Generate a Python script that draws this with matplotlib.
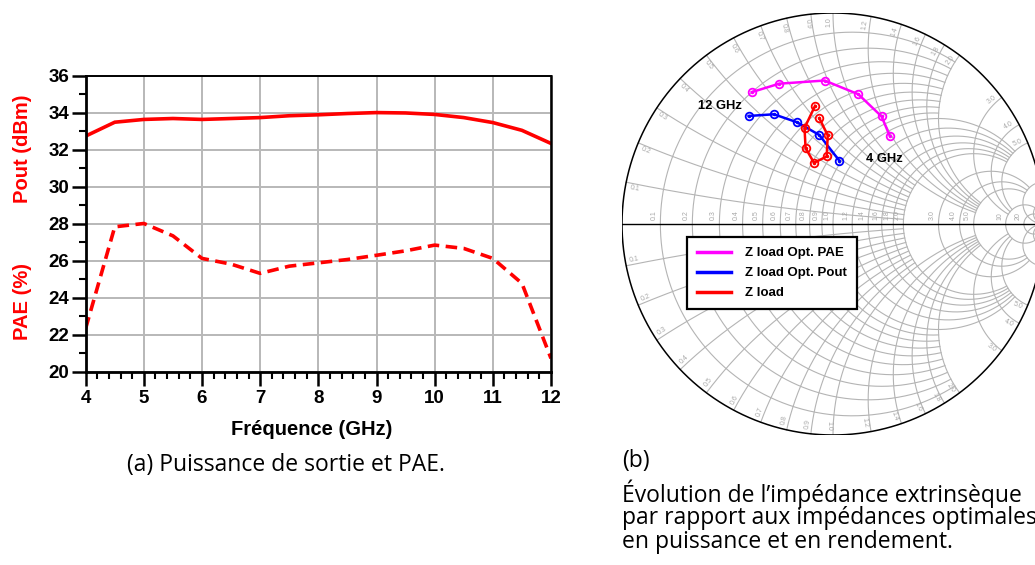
import numpy as np
import matplotlib as mpl
mpl.use('agg')
import matplotlib.pyplot as plt
from matplotlib.lines import Line2D

# (a) output power and PAE versus frequency
freq = [4, 4.5, 5, 5.5, 6, 6.5, 7, 7.5, 8, 8.5, 9, 9.5, 10, 10.5, 11, 11.5, 12]
pout = [32.75, 33.5, 33.65, 33.7, 33.65, 33.7, 33.75, 33.85, 33.9, 33.97,
        34.02, 34.0, 33.92, 33.75, 33.48, 33.06, 32.35]
pae = [22.35, 27.84, 28.02, 27.35, 26.13, 25.82, 25.32, 25.71, 25.89, 26.07,
       26.3, 26.54, 26.85, 26.67, 26.13, 24.78, 20.72]

gam_pae_re = [-0.385, -0.255, -0.04, 0.12, 0.23, 0.27]
gam_pae_im = [0.625, 0.665, 0.68, 0.615, 0.51, 0.415]
gam_pout_re = [-0.40, -0.28, -0.17, -0.065, 0.03]
gam_pout_im = [0.512, 0.52, 0.482, 0.422, 0.30]
gam_z_re = [-0.065, -0.025, -0.03, -0.09, -0.13, -0.135, -0.085]
gam_z_im = [0.502, 0.42, 0.32, 0.29, 0.36, 0.455, 0.56]

grid_vals = [0.1, 0.2, 0.3, 0.4, 0.5, 0.6, 0.7, 0.8, 0.9, 1.0,
             1.2, 1.4, 1.6, 1.8, 2.0, 3.0, 4.0, 5.0, 10, 20]

W, H = 1035, 565
fig = plt.figure(figsize=(W / 100, H / 100), dpi=100)
bold = dict(family='Liberation Sans', weight='bold')

# ---------- left chart ----------
ax = fig.add_axes([85.7 / W, (H - 371.7) / H, (551 - 85.7) / W, (371.7 - 76) / H])
ax.plot(freq, pout, color='#ff0000', lw=2.6, solid_joinstyle='miter')
ax.plot(freq, pae, color='#ff0000', lw=2.6, dashes=(3.2, 1.8))
ax.set_xlim(4, 12)
ax.set_ylim(20, 36)
ax.set_xticks(range(4, 13))
ax.set_yticks(range(20, 37, 2))
ax.set_xticks(np.arange(4, 12.01, 0.2), minor=True)
ax.set_yticks(range(20, 37), minor=True)
ax.grid(True, which='major', color='#b8b8b8', lw=1.4)
ax.set_axisbelow(True)
ax.tick_params(which='major', length=10, width=1.8, direction='out', pad=2)
ax.tick_params(which='minor', length=5, width=1.5, direction='out')
ax.tick_params(axis='x', pad=3)
for lab in ax.get_xticklabels() + ax.get_yticklabels():
    lab.set_fontproperties(mpl.font_manager.FontProperties(**bold, size=13.5))
for s in ['left', 'bottom']:
    ax.spines[s].set_linewidth(2)
ax.spines['top'].set_linewidth(1.4)
ax.spines['right'].set_linewidth(1.8)
ax.set_xlabel('Fréquence (GHz)', fontsize=14.5, **bold)
ax.xaxis.set_label_coords(0.485, -0.165)
fig.text(23 / W, 1 - 148.5 / H, 'Pout (dBm)', color='#ff0000', rotation=90,
         ha='center', va='center', fontsize=14.5, **bold)
fig.text(23 / W, 1 - 301 / H, 'PAE (%)', color='#ff0000', rotation=90,
         ha='center', va='center', fontsize=14.5, **bold)

# ---------- Smith chart ----------
R = 211
sx = fig.add_axes([622 / W, (H - 435) / H, 2 * R / W, 2 * R / H])
sx.set_xlim(-1, 1)
sx.set_ylim(-1, 1)
sx.axis('off')
gc = '#b4b4b4'


def limit(v):
    if v < 1.0:
        return 2.0
    if v <= 2.0:
        return 5.0
    if v <= 5.0:
        return 10.0
    return 50.0


def gamma(z):
    return (z - 1) / (z + 1)


t = np.linspace(0, 1, 600)
for v in grid_vals:
    lim = limit(v)
    # resistance circle r=v for |x|<=lim
    xs = np.tan(np.linspace(-np.arctan(lim), np.arctan(lim), 600))
    g = gamma(v + 1j * xs)
    sx.plot(g.real, g.imag, color=gc, lw=0.8)
    # reactance arcs x=+-v for r<=lim
    rs = lim * t ** 2
    for sgn in (1, -1):
        g = gamma(rs + 1j * sgn * v)
        sx.plot(g.real, g.imag, color=gc, lw=0.8)
    # labels on the real axis
    gr = (v - 1) / (v + 1)
    txt = '%d' % v if v >= 10 else '%.1f' % v
    sx.text(gr - 0.012, 0.02, txt, rotation=90, ha='right', va='bottom',
            fontsize=5, color='#a8a8a8', family='Liberation Sans')
    # labels along the outer circle (skip the ones beyond the page edge)
    for sgn in (1, -1):
        g = gamma(1j * sgn * v)
        ang = np.degrees(np.angle(g))
        a2 = np.radians(ang + sgn * 1.2)
        px, py = 0.955 * np.cos(a2), 0.955 * np.sin(a2)
        if 622 + R * (1 + px) > 1022:
            continue
        rot = ang if -90 <= ang <= 90 else ang - 180
        sx.text(px, py, txt, rotation=rot, ha='center', va='center',
                rotation_mode='anchor', fontsize=5, color='#a8a8a8',
                family='Liberation Sans')

th = np.linspace(0, 2 * np.pi, 800)
sx.plot(np.cos(th), np.sin(th), color='black', lw=1.1)
sx.plot([-1, 1], [0, 0], color='black', lw=1.0)

for re, im, c in [(gam_pae_re, gam_pae_im, '#ff00ff'),
                  (gam_pout_re, gam_pout_im, '#0000ff'),
                  (gam_z_re, gam_z_im, '#ff0000')]:
    sx.plot(re, im, color=c, lw=1.8, marker='o', ms=5.5, mfc='none', mew=1.3)
    sx.plot(re, im, ls='none', marker='o', ms=1.5, color=c)

sx.text(-0.535, 0.56, '12 GHz', ha='center', va='center', fontsize=9.3, **bold)
sx.text(0.242, 0.308, '4 GHz', ha='center', va='center', fontsize=9.3, **bold)

handles = [Line2D([], [], color='#ff00ff', lw=2.5),
           Line2D([], [], color='#0000ff', lw=2.5),
           Line2D([], [], color='#ff0000', lw=2.5)]
leg = fig.legend(handles, ['Z load Opt. PAE', 'Z load Opt. Pout', 'Z load'],
                 loc='upper left', bbox_to_anchor=(687 / W, 1 - 237 / H),
                 bbox_transform=fig.transFigure, borderaxespad=0,
                 fancybox=False, framealpha=1, edgecolor='black',
                 prop=mpl.font_manager.FontProperties(**bold, size=9.5),
                 handlelength=2.6, handletextpad=1.05, labelspacing=0.6,
                 borderpad=0.75)
leg.get_frame().set_linewidth(1.6)

# ---------- captions ----------
cap = dict(family=['Open Sans', 'DejaVu Sans'], fontsize=16.5, color='black')
fig.text(286 / W, 1 - 465 / H, '(a) Puissance de sortie et PAE.', ha='center', va='center', **cap)
fig.text(622 / W, 1 - 461 / H, '(b)', ha='left', va='center', **cap)
fig.text(622 / W, 1 - 494 / H, 'Évolution de l’impédance extrinsèque', ha='left', va='center', **cap)
fig.text(622 / W, 1 - 518 / H, 'par rapport aux impédances optimales', ha='left', va='center', **cap)
fig.text(622 / W, 1 - 542 / H, 'en puissance et en rendement.', ha='left', va='center', **cap)

fig.savefig('out.png', dpi=100)
